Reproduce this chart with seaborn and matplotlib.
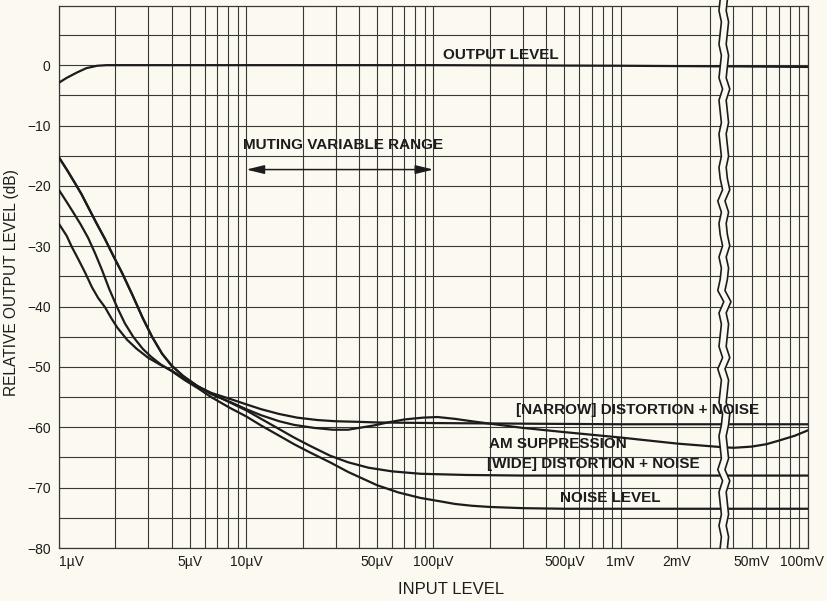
import numpy as np
import pandas as pd
import matplotlib
matplotlib.use('Agg')
import matplotlib.pyplot as plt
import seaborn as sns

# input level in microvolts, relative output level in dB
output_x = [1, 1.1, 1.25, 1.4, 1.6, 1.8, 2, 10, 100, 1000, 3500, 40000, 100000]
output_y = [-2.9, -2.1, -1.2, -0.5, -0.1, 0, 0, 0, 0, -0.1, -0.2, -0.2, -0.3]

narrow_x = [1, 1.1, 1.22, 1.32, 1.43, 1.58, 1.76, 1.95, 2.17, 2.46, 2.8, 3.14, 3.55,
            4, 4.6, 5.5, 6.5, 8.2, 10, 12, 15, 18.7, 24, 30, 40, 50, 100,
            300, 1000, 3500, 40000, 100000]
narrow_y = [-15.3, -17.3, -19.6, -21.4, -23.5, -26.1, -28.8, -31.6, -34.4, -38, -41.9,
            -45, -47.8, -49.8, -51.5, -53.2, -54.3, -55.3, -56.2, -57, -57.8, -58.4,
            -58.8, -59, -59.1, -59.2, -59.3, -59.4, -59.5, -59.5, -59.5, -59.5]

am_x = [1, 1.1, 1.22, 1.32, 1.43, 1.58, 1.76, 1.95, 2.17, 2.46, 2.8, 3.14, 3.55,
        4, 4.6, 5.5, 6.5, 8.2, 10, 12, 15, 18, 23, 29, 35, 40, 48, 57, 70, 88, 105,
        130, 160, 200, 300, 500, 1000, 2000, 3500, 40000, 50000, 60000, 70000,
        85000, 100000]
am_y = [-15.3, -17.3, -19.6, -21.4, -23.5, -26.1, -28.8, -31.6, -34.4, -38, -41.9,
        -45, -47.8, -49.8, -51.5, -53.2, -54.5, -55.8, -57, -58, -59, -59.6, -60.1,
        -60.4, -60.4, -60.1, -59.7, -59.2, -58.7, -58.4, -58.3, -58.6, -59, -59.4,
        -60.1, -60.8, -61.7, -62.7, -63.3, -63.4, -63.2, -62.8, -62.2, -61.4, -60.5]

wide_x = [1, 1.1, 1.17, 1.27, 1.38, 1.5, 1.62, 1.76, 1.9, 2.05, 2.31, 2.6, 3, 3.5,
          4, 4.7, 5.5, 6.5, 8.2, 10, 12, 15, 18, 22, 28, 35, 45, 60, 85, 150,
          300, 1000, 3500, 40000, 100000]
wide_y = [-26.3, -28.3, -30.1, -32.2, -34.4, -36.8, -38.6, -40.1, -41.9, -43.5, -45.5,
          -47, -48.5, -49.7, -50.6, -52, -53.2, -54.4, -55.9, -57.2, -58.6, -60.3,
          -61.7, -63.1, -64.7, -65.8, -66.7, -67.3, -67.7, -67.9, -68, -68, -68,
          -68, -68]

noise_x = [1, 1.08, 1.17, 1.3, 1.43, 1.56, 1.7, 1.85, 2.05, 2.25, 2.49, 2.8, 3.1, 3.5,
           4, 4.7, 5.5, 6.5, 8.2, 10, 12, 15, 18, 22, 28, 35, 50, 65, 85, 110, 130,
           160, 200, 300, 500, 1000, 3500, 40000, 100000]
noise_y = [-20.7, -22.3, -24, -26.3, -28.6, -31.2, -34, -37, -40.2, -42.8, -45, -47,
           -48.3, -49.6, -50.7, -52.2, -53.5, -55, -56.8, -58.2, -59.7, -61.4, -62.8,
           -64.2, -65.8, -67.4, -69.6, -70.8, -71.7, -72.3, -72.7, -73, -73.2, -73.4,
           -73.5, -73.5, -73.5, -73.5, -73.5]

tick_vals = [1, 5, 10, 50, 100, 500, 1000, 2000, 50000, 100000]
tick_text = ['1µV', '5µV', '10µV', '50µV', '100µV', '500µV', '1mV', '2mV', '50mV', '100mV']

# axis break: 3.55mV .. 35.5mV is cut out
brk = 3550

def fwd(v):
    v = np.clip(np.asarray(v, dtype=float), 1e-9, None)
    lg = np.log10(v)
    return np.where(v <= brk, lg, lg - 1)

def inv(p):
    p = np.asarray(p, dtype=float)
    return np.where(p <= np.log10(brk), 10 ** p, 10 ** (p + 1))

bg = '#fbf9f0'
ink = '#1c1c1c'

sns.set_theme(style='ticks')
plt.rcParams['font.family'] = ['Liberation Sans', 'DejaVu Sans']

fig = plt.figure(figsize=(8.28, 6.01), dpi=100, facecolor=bg)
ax = fig.add_axes([59 / 828, 53 / 601, 749 / 828, 542 / 601])
ax.set_facecolor(bg)

for xs, ys in [(output_x, output_y), (narrow_x, narrow_y), (am_x, am_y),
               (wide_x, wide_y), (noise_x, noise_y)]:
    sns.lineplot(x=xs, y=ys, color=ink, lw=1.6, ax=ax, zorder=3)

ax.set_xscale('function', functions=(fwd, inv))
ax.set_xlim(1, 100000)
ax.set_ylim(-80, 9.8)

# grid
minor = [m * 10 ** k for k in range(0, 5) for m in range(1, 10)]
minor = [v for v in minor if v <= 100000 and not (brk < v < brk * 10)]
ax.set_xticks(minor, minor=True)
ax.set_xticks(tick_vals)
# last label is placed by hand so it stays inside the figure
ax.set_xticklabels(tick_text[:-1] + [''])
ax.get_xticklabels()[0].set_horizontalalignment('left')
ax.annotate(tick_text[-1], xy=(tick_vals[-1], 0), xycoords=ax.get_xaxis_transform(),
            xytext=(-4, -5), textcoords='offset points', ha='center', va='top',
            fontsize=10, color=ink)
ax.set_yticks(range(-80, 1, 10))
ax.set_yticks(range(-80, 10, 5), minor=True)
ax.grid(which='both', color='#383838', lw=0.8)
ax.tick_params(which='both', length=0, colors=ink, labelsize=10)
ax.tick_params(axis='x', pad=5)
ax.tick_params(axis='y', pad=6)
for s in ax.spines.values():
    s.set_color('#383838')
    s.set_linewidth(0.9)

ax.set_xlabel('INPUT LEVEL', fontsize=12, color=ink)
ax.set_ylabel('RELATIVE OUTPUT LEVEL (dB)', fontsize=11.2, color=ink)
ax.xaxis.set_label_coords(0.523, -0.062)
ax.yaxis.set_label_coords(-0.054, 0.49)

# annotations
lab = dict(fontsize=11, fontweight='bold', color=ink, zorder=6)
ax.text(113, 0.6, 'OUTPUT LEVEL', va='bottom', ha='left', **lab)
ax.text(9.6, -13.2, 'MUTING VARIABLE RANGE', va='center', ha='left', **lab)
ax.annotate('', xy=(10, -17.3), xytext=(100, -17.3), zorder=6,
            arrowprops=dict(arrowstyle='<|-|>,head_length=0.9,head_width=0.22',
                            color=ink, lw=1.1, shrinkA=0, shrinkB=0))
ax.text(275, -57.1, '[NARROW] DISTORTION + NOISE', va='center', ha='left', **lab)
ax.text(197, -62.7, 'AM SUPPRESSION', va='center', ha='left', **lab)
ax.text(192, -66.1, '[WIDE] DISTORTION + NOISE', va='center', ha='left', **lab)
ax.text(472, -71.7, 'NOISE LEVEL', va='center', ha='left', **lab)

# jagged double line marking the axis break (offsets in pixels)
xb = ax.transData.transform((brk, 0))[0]
fb = ax.transAxes.inverted().transform((xb, 0))[0]
jag = [0, 1, -1, 1, 0, -1, 2, -2, 1, 0, -1, 1, 2, -1, 0, 1, -2, 2, -1, 0,
       1, -1, 3, -2, 0, 1, -1, 2, 0, -1, 1, -2, 2, 0, -1, 1, 0, -1, 1, 0,
       -1, 2, -1, 0, 1, -1, 0, 1, -1, 0]
wy = np.linspace(0, 1.012, len(jag))
wig = np.array(jag) * 1.2 / 749
left = fb - 3.6 / 749 + wig
right = fb + 3.6 / 749 + wig
ax.fill_betweenx(wy, left, right, color=bg, transform=ax.transAxes,
                 clip_on=False, zorder=4, lw=0)
ax.plot(left, wy, color=ink, lw=1.2, transform=ax.transAxes, clip_on=False, zorder=5)
ax.plot(right, wy, color=ink, lw=1.2, transform=ax.transAxes, clip_on=False, zorder=5)

fig.savefig('out.png', dpi=100, facecolor=bg)
